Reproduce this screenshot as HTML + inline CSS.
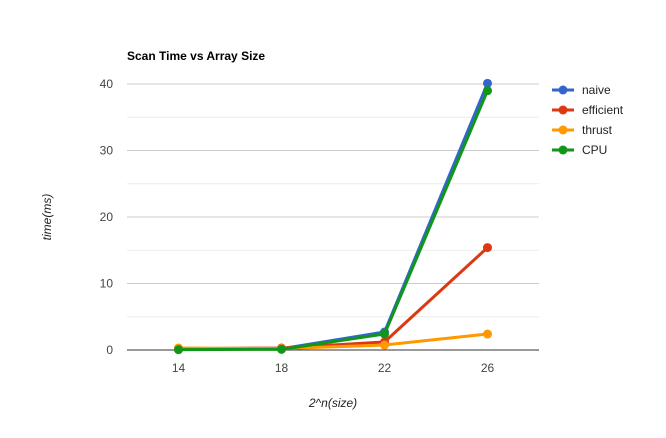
<!DOCTYPE html>
<html><head><meta charset="utf-8"><style>
body{margin:0;background:#fff;}
svg{font-family:"Liberation Sans",Arial,sans-serif;}
</style></head><body>
<svg width="666" height="433" id="chart">
<text x="127" y="60" font-size="12" font-weight="bold" fill="#000">Scan Time vs Array Size</text>
<text x="0" y="0" transform="translate(51,217) rotate(-90)" text-anchor="middle" font-size="12" font-style="italic" fill="#222">time(ms)</text>
<text x="333" y="407" text-anchor="middle" font-size="12" font-style="italic" fill="#222">2^n(size)</text>
<g id="grid"></g><g id="series"></g><g id="legend"></g>
</svg>
<script>
const categories=["14","18","22","26"];
const yTicks=[0,10,20,30,40];
const seriesNames=["naive","efficient","thrust","CPU"];
const seriesColors=["#3366cc","#dc3912","#ff9900","#109618"];
const naive=[0.1,0.2,2.7,40.1];
const efficient=[0.2,0.3,1.2,15.4];
const thrust=[0.3,0.2,0.75,2.4];
const cpu=[0.05,0.1,2.4,39];
const allSeries=[naive,efficient,thrust,cpu];
const NS="http://www.w3.org/2000/svg";
const L=127,R=539,T=84,B=350;
const xs=i=>L+(R-L)*(i+0.5)/categories.length;
const ys=v=>B-(B-T)*v/40;
function mk(t,a,p){const e=document.createElementNS(NS,t);for(const k in a)e.setAttribute(k,a[k]);p.appendChild(e);return e;}
const g=document.getElementById('grid');
for(let i=0;i<yTicks.length;i++){
 const v=yTicks[i];
 if(i>0){const m=mk('line',{x1:L,x2:R,y1:ys(v-5),y2:ys(v-5),stroke:'#ebebeb'},g);
 
 }
 if(v>0){const l=mk('line',{x1:L,x2:R,y1:ys(v),y2:ys(v),stroke:'#cccccc'},g);
 
 }
 const t=mk('text',{x:L-14,y:ys(v)+4,'text-anchor':'end','font-size':12,fill:'#444'},g);t.textContent=v;
 
 
}
const ax=mk('line',{x1:L,x2:R,y1:B,y2:B,stroke:'#333'},g);


categories.forEach((c,i)=>{const t=mk('text',{x:xs(i),y:B+22,'text-anchor':'middle','font-size':12,fill:'#444'},g);t.textContent=c;
 
 });
const sg=document.getElementById('series');
allSeries.forEach((d,s)=>{
 const grp=mk('g',{},sg);
 
 
 const pl=mk('polyline',{points:d.map((v,i)=>xs(i)+','+ys(v)).join(' '),fill:'none',stroke:seriesColors[s],'stroke-width':3},grp);
 
 
 d.forEach((v,i)=>{const c=mk('circle',{cx:xs(i),cy:ys(v),r:4.5,fill:seriesColors[s]},grp);
 
 });
});
const lg=document.getElementById('legend');
seriesNames.forEach((n,i)=>{
 const y=90+i*20;
 const grp=mk('g',{},lg);
 
 
 mk('line',{x1:552,x2:574,y1:y,y2:y,stroke:seriesColors[i],'stroke-width':3},grp);
 mk('circle',{cx:563,cy:y,r:4.5,fill:seriesColors[i]},grp);
 const t=mk('text',{x:582,y:y+4,'font-size':12,fill:'#222'},grp);t.textContent=n;
});
</script>
</body></html>
